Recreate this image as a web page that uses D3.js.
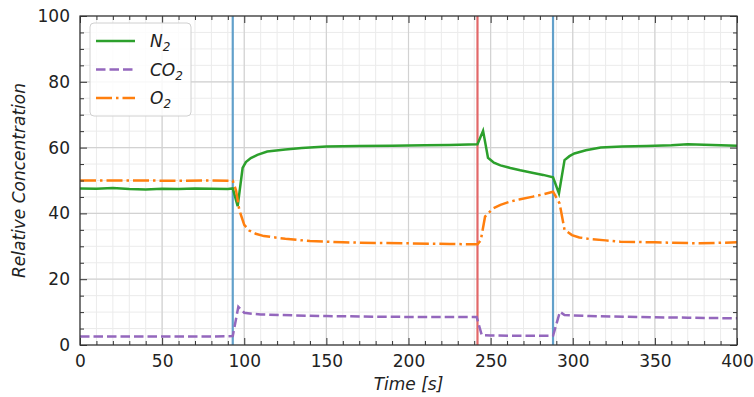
<!DOCTYPE html>
<html>
<head>
<meta charset="utf-8">
<script src="https://cdn.jsdelivr.net/npm/d3@7"></script>
<style>
  body { margin: 0; background: #fff; }
  svg { font-family: "DejaVu Sans", sans-serif; }
</style>
</head>
<body>
<div id="chart"></div>
<script>
// time stamps and values
const n2Time = [0, 10, 20, 30, 40, 50, 60, 70, 80, 90, 93, 96, 99, 101, 104, 108, 114, 125, 135, 150, 170, 190, 210, 225, 242, 245.4, 248.4, 252, 256, 262, 268, 276, 282, 288, 291.6, 295, 298, 301, 308, 317, 330, 345, 360, 370, 380, 390, 400];
const n2Val  = [47.6, 47.5, 47.7, 47.4, 47.3, 47.5, 47.4, 47.6, 47.5, 47.4, 47.6, 42.2, 53.8, 55.6, 56.8, 57.8, 58.8, 59.4, 59.9, 60.3, 60.5, 60.6, 60.7, 60.8, 61.0, 65.1, 56.9, 55.4, 54.6, 53.8, 53.1, 52.3, 51.7, 51.0, 46.1, 56.2, 57.4, 58.2, 59.2, 60.0, 60.3, 60.5, 60.7, 61.0, 60.9, 60.7, 60.6];

const co2Time = [0, 20, 40, 60, 80, 93, 96.4, 100, 105, 110, 130, 150, 180, 210, 241.5, 244.6, 250, 270, 288, 292.2, 295, 310, 340, 370, 400];
const co2Val  = [2.6, 2.6, 2.6, 2.6, 2.6, 2.7, 11.6, 9.8, 9.5, 9.3, 9.0, 8.8, 8.6, 8.5, 8.5, 3.0, 2.9, 2.8, 2.8, 10.1, 9.1, 8.8, 8.5, 8.3, 8.1];

const o2Time = [0, 20, 40, 60, 80, 93, 95, 97, 100, 103, 107, 112, 125, 140, 160, 180, 200, 225, 242, 244, 246.6, 251.4, 256, 262, 268, 275.8, 282, 288, 292, 295, 299.5, 304, 310.5, 320, 329, 350, 377, 400];
const o2Val  = [50.0, 50.0, 50.0, 49.9, 50.0, 49.9, 47.0, 41.0, 36.5, 34.8, 33.8, 33.1, 32.3, 31.6, 31.2, 31.0, 30.9, 30.7, 30.6, 31.8, 39.0, 41.5, 42.6, 43.6, 44.3, 45.1, 45.8, 46.6, 43.0, 35.0, 33.4, 32.7, 32.2, 31.8, 31.4, 31.2, 30.9, 31.2];

const eventTime  = [93, 242, 288];
const eventColor = ['#62a0ca', '#e26869', '#62a0ca'];

const xTicks = [0, 50, 100, 150, 200, 250, 300, 350, 400];
const yTicks = [0, 20, 40, 60, 80, 100];

const width = 754, height = 397;
const margin = { top: 16, right: 17, bottom: 52, left: 80 };
const innerW = width - margin.left - margin.right;
const innerH = height - margin.top - margin.bottom;

const svg = d3.select('#chart').append('svg')
  .attr('width', width)
  .attr('height', height);

const x = d3.scaleLinear().domain([0, 400]).range([0, innerW]);
const y = d3.scaleLinear().domain([0, 100]).range([innerH, 0]);

const g = svg.append('g')
  .attr('transform', `translate(${margin.left},${margin.top})`);

// 网格：次网格 + 主网格
const xMinor = d3.range(0, 401, 10);
const yMinor = d3.range(0, 101, 5);
g.append('g').selectAll('line.xm').data(xMinor).enter().append('line')
  .attr('x1', d => x(d)).attr('x2', d => x(d)).attr('y1', 0).attr('y2', innerH)
  .attr('stroke', '#ebebeb').attr('stroke-width', 1);
g.append('g').selectAll('line.ym').data(yMinor).enter().append('line')
  .attr('y1', d => y(d)).attr('y2', d => y(d)).attr('x1', 0).attr('x2', innerW)
  .attr('stroke', '#ebebeb').attr('stroke-width', 1);
g.append('g').selectAll('line.xM').data(xTicks).enter().append('line')
  .attr('x1', d => x(d)).attr('x2', d => x(d)).attr('y1', 0).attr('y2', innerH)
  .attr('stroke', '#d2d2d2').attr('stroke-width', 1.2);
g.append('g').selectAll('line.yM').data(yTicks).enter().append('line')
  .attr('y1', d => y(d)).attr('y2', d => y(d)).attr('x1', 0).attr('x2', innerW)
  .attr('stroke', '#d2d2d2').attr('stroke-width', 1.2);

// 事件竖线
g.selectAll('line.event').data(eventTime).enter().append('line')
  .attr('x1', d => x(d)).attr('x2', d => x(d)).attr('y1', 0).attr('y2', innerH)
  .attr('stroke', (d, i) => eventColor[i]).attr('stroke-width', 2.2);

const line = d3.line().x(d => x(d[0])).y(d => y(d[1]));
const series = [
  { name: 'N', time: n2Time, val: n2Val, color: '#2ca02c', dash: null },
  { name: 'CO', time: co2Time, val: co2Val, color: '#9467bd', dash: '9.5,4' },
  { name: 'O', time: o2Time, val: o2Val, color: '#ff7f0e', dash: '16,4,2.5,4' }
];

g.append('defs').append('clipPath').attr('id', 'clip')
  .append('rect').attr('width', innerW).attr('height', innerH);

series.forEach(s => {
  g.append('path')
    .datum(s.time.map((t, i) => [t, s.val[i]]))
    .attr('clip-path', 'url(#clip)')
    .attr('fill', 'none')
    .attr('stroke', s.color)
    .attr('stroke-width', 2.5)
    .attr('stroke-dasharray', s.dash)
    .attr('d', line);
});

// 坐标轴（刻度朝内，四边）
const fontSize = 17;
function styleAxis(sel) {
  sel.select('.domain').remove();
  sel.selectAll('.tick line').attr('stroke', '#333').attr('stroke-width', 1);
  sel.selectAll('text').attr('fill', '#222').style('font-size', fontSize + 'px')
    .style('font-family', '"DejaVu Sans", sans-serif');
}
function addAxis(axis, tf) {
  const a = g.append('g').attr('transform', tf).call(axis);
  styleAxis(a);
  return a;
}
// major
addAxis(d3.axisBottom(x).tickValues(xTicks).tickSize(-7).tickPadding(10).tickFormat(d3.format('d')), `translate(0,${innerH})`);
addAxis(d3.axisTop(x).tickValues(xTicks).tickSize(-7).tickFormat(''), 'translate(0,0)');
addAxis(d3.axisLeft(y).tickValues(yTicks).tickSize(-7).tickPadding(10).tickFormat(d3.format('d')), 'translate(0,0)');
addAxis(d3.axisRight(y).tickValues(yTicks).tickSize(-7).tickFormat(''), `translate(${innerW},0)`);
// minor
const xMinorTicks = xMinor.filter(d => d % 50 !== 0);
const yMinorTicks = yMinor.filter(d => d % 20 !== 0);
addAxis(d3.axisBottom(x).tickValues(xMinorTicks).tickSize(-4).tickFormat(''), `translate(0,${innerH})`);
addAxis(d3.axisTop(x).tickValues(xMinorTicks).tickSize(-4).tickFormat(''), 'translate(0,0)');
addAxis(d3.axisLeft(y).tickValues(yMinorTicks).tickSize(-4).tickFormat(''), 'translate(0,0)');
addAxis(d3.axisRight(y).tickValues(yMinorTicks).tickSize(-4).tickFormat(''), `translate(${innerW},0)`);

g.append('rect')
  .attr('width', innerW).attr('height', innerH)
  .attr('fill', 'none').attr('stroke', '#333').attr('stroke-width', 1.2);

// 轴标题
svg.append('text')
  .attr('x', margin.left + innerW / 2)
  .attr('y', 390)
  .attr('text-anchor', 'middle')
  .style('font-size', fontSize + 'px')
  .style('font-style', 'italic')
  .attr('fill', '#222')
  .text('Time [s]');

svg.append('text')
  .attr('transform', `translate(25,${margin.top + innerH / 2}) rotate(-90)`)
  .attr('text-anchor', 'middle')
  .style('font-size', fontSize + 'px')
  .style('font-style', 'italic')
  .attr('fill', '#222')
  .text('Relative Concentration');

// 图例
const legend = svg.append('g').attr('transform', 'translate(90,23)');
legend.append('rect')
  .attr('width', 101).attr('height', 93).attr('rx', 4)
  .attr('fill', 'rgba(255,255,255,0.85)')
  .attr('stroke', '#d0d0d0').attr('stroke-width', 1);

const legendItems = legend.selectAll('.legend-item').data(series).enter().append('g')
  .attr('class', 'legend-item')
  .attr('transform', (d, i) => `translate(0,${18 + i * 28.5})`);

legendItems.append('line')
  .attr('x1', 6).attr('x2', 45).attr('y1', 0).attr('y2', 0)
  .attr('stroke', d => d.color).attr('stroke-width', 2.5)
  .attr('stroke-dasharray', d => d.dash);

const lt = legendItems.append('text')
  .attr('x', 60).attr('y', 6)
  .style('font-size', fontSize + 'px')
  .style('font-style', 'italic')
  .attr('fill', '#222');
lt.append('tspan').text(d => d.name);
lt.append('tspan').attr('dy', 4).style('font-size', '12px').text('2');
</script>
</body>
</html>
